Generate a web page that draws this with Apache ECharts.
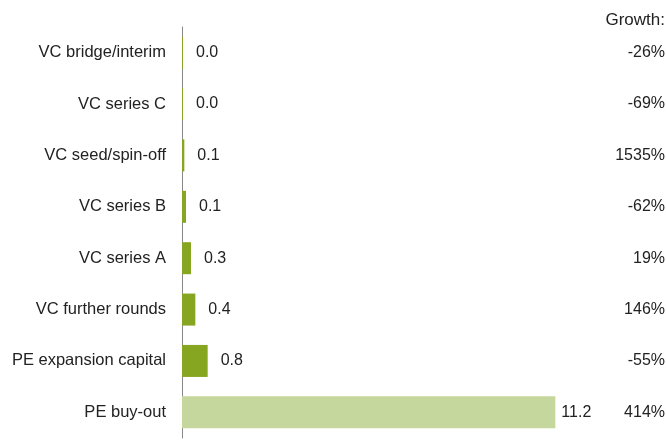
<!DOCTYPE html>
<html>
<head>
<meta charset="utf-8">
<script src="https://cdn.jsdelivr.net/npm/echarts@6/dist/echarts.min.js"></script>
<style>
  html, body { margin: 0; padding: 0; background: #fff; }
  #chart { width: 666px; height: 440px; }
</style>
</head>
<body>
<div id="chart"></div>
<script>
const categories = ["VC bridge/interim", "VC series C", "VC seed/spin-off", "VC series B",
  "VC series A", "VC further rounds", "PE expansion capital", "PE buy-out"];
const values = [0.03, 0.03, 0.07, 0.12, 0.27, 0.4, 0.77, 11.2];
const growth = ["-26%", "-69%", "1535%", "-62%", "19%", "146%", "-55%", "414%"];

const darkGreen = "#86a520";
const lightGreen = "#c5d79c";

const chart = echarts.init(document.getElementById("chart"));

const option = {
  animation: false,
  textStyle: { fontFamily: "Liberation Sans, Arial, sans-serif" },
  title: {
    text: "Growth:",
    right: 1,
    top: 12,
    padding: 0,
    textStyle: { fontSize: 17, fontWeight: "normal", color: "#222" }
  },
  grid: { left: 182, top: 27, height: 411, width: 400, outerBoundsMode: "none" },
  xAxis: {
    type: "value",
    min: 0,
    max: 12,
    show: false
  },
  yAxis: [
    {
      type: "category",
      data: categories,
      inverse: true,
      axisLine: { lineStyle: { color: "#888", width: 1 } },
      axisTick: { length: 4, lineStyle: { color: "#999" } },
      axisLabel: { fontSize: 16.5, color: "#222", margin: 16 }
    },
    {
      type: "category",
      data: growth,
      inverse: true,
      position: "right",
      axisLine: { show: false },
      axisTick: { show: false },
      axisLabel: { fontSize: 16, color: "#222", align: "right", margin: 83 }
    }
  ],
  series: [
    {
      type: "bar",
      barWidth: 32,
      data: values.map((v, i) => ({
        value: v,
        itemStyle: { color: i === values.length - 1 ? lightGreen : darkGreen },
        label: { distance: i === values.length - 1 ? 6 : 13 }
      })),
      label: {
        show: true,
        position: "right",
        fontSize: 16,
        color: "#222",
        formatter: p => p.value.toFixed(1)
      }
    }
  ]
};

chart.setOption(option);
</script>
</body>
</html>
